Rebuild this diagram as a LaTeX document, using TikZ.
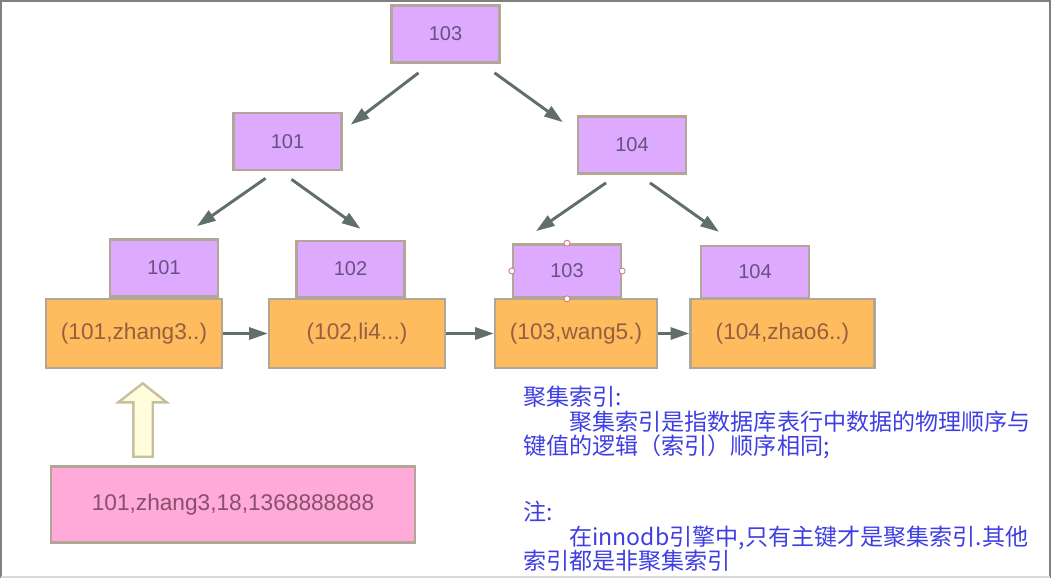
\documentclass[tikz,border=0pt]{standalone}
\usepackage{fontspec}
\setmainfont{Liberation Sans}
\newfontfamily\cjk{Noto Sans CJK SC}
\usetikzlibrary{arrows.meta, calc}

\definecolor{keyfill}{RGB}{222,170,255}
\definecolor{keytext}{RGB}{105,80,130}
\definecolor{rowfill}{RGB}{255,188,94}
\definecolor{rowtext}{RGB}{150,95,65}
\definecolor{recfill}{RGB}{255,170,216}
\definecolor{rectext}{RGB}{135,80,110}
\definecolor{boxline}{RGB}{178,166,150}
\definecolor{linkgray}{RGB}{96,110,108}
\definecolor{hollowfill}{RGB}{255,253,220}
\definecolor{hollowline}{RGB}{200,190,160}
\definecolor{noteblue}{RGB}{62,62,228}
\definecolor{handle}{RGB}{205,120,120}

\begin{document}
\begin{tikzpicture}[x=0.75pt, y=-0.75pt,
  box/.style={draw=boxline, line width=1.8pt, inner sep=0pt},
  key/.style={box, fill=keyfill, text=keytext, font=\fontsize{15}{18}\selectfont,
    minimum width=81pt, minimum height=43pt},
  row/.style={box, fill=rowfill, text=rowtext, font=\fontsize{17}{20}\selectfont,
    minimum height=52pt},
  link/.style={draw=linkgray, line width=2.2pt, -{Triangle[length=14pt,width=9pt]}},
  note/.style={text=noteblue, anchor=north west, inner sep=0pt, align=left,
    font=\cjk\fontsize{17.3}{18.4}\selectfont}]
  \useasboundingbox (0,0) rectangle (1052,578);

  % frame of the slide
  \draw[gray, line width=1.2pt] (0.8,578) -- (0.8,0.8) -- (1050,0.8) -- (1050,578);
  \draw[gray!30, line width=1pt] (0.8,577) -- (1050,577);

  % inner nodes of the tree
  \node[key] (root) at (445.5,34) {103};
  \node[key] (n101) at (287.5,141.5) {101};
  \node[key] (n104) at (632,145) {104};

  % leaf keys
  \node[key, minimum height=43pt] (k101) at (164,268) {101};
  \node[key, minimum height=42pt] (k102) at (350.5,269) {102};
  \node[key, minimum height=40pt] (k103) at (567,271) {103};
  \node[key, minimum height=39pt] (k104) at (755,272) {104};

  % rows of data
  \node[row, minimum width=132pt] (r101) at (134,333.5) {(101,zhang3..)};
  \node[row, minimum width=132pt] (r102) at (357,333.5) {(102,li4...)};
  \node[row, minimum width=121.5pt] (r103) at (576,333.5) {(103,wang5.)};
  \node[row, minimum width=138pt] (r104) at (782.5,333.5) {(104,zhao6..)};

  % tree links
  \draw[link] ($(root.south)+(-27,9)$) -- ($(n101.north east)+(8,13)$);
  \draw[link] ($(root.south)+(49,9)$) -- ($(n104.north west)+(-14,7)$);
  \draw[link] ($(n101.south)+(-22,7)$) -- ($(k101.north)+(33,-12)$);
  \draw[link] ($(n101.south)+(4,8)$) -- ($(k102.north)+(10,-11)$);
  \draw[link] ($(n104.south)+(-26,8)$) -- ($(k103.north)+(-31,-12)$);
  \draw[link] ($(n104.south)+(18,8)$) -- ($(k104.north)+(-36,-13)$);

  % leaf chain
  \draw[link] (r101) -- (r102);
  \draw[link] (r102) -- (r103);
  \draw[link] (r103) -- (r104);

  % selection handles
  \foreach \a in {north, west, east, south}
    \draw[handle, fill=white, line width=0.6pt] (k103.\a) circle (3);

  % record
  \node[box, fill=recfill, text=rectext, font=\fontsize{17}{20}\selectfont,
    minimum width=273pt, minimum height=57pt] (rec) at (233,504.5)
    {101,zhang3,18,1368888888};
  \draw[hollowline, fill=hollowfill, line width=1.8pt]
    (133.3,456.7) -- (133.3,402.3) -- (118.3,402.3) -- (142.7,383.3)
    -- (166.7,402.3) -- (152.7,402.3) -- (152.7,456.7) -- cycle;

  % notes
  \node[note] (def) at (523,386)
    {聚集索引:\\
     \hspace*{2em}聚集索引是指数据库表行中数据的物理顺序与\\
     键值的逻辑（索引）顺序相同;};
  \node[note] (rmk) at (523,501)
    {注:\\
     \hspace*{2em}在innodb引擎中,只有主键才是聚集索引.其他\\
     索引都是非聚集索引};
\end{tikzpicture}
\end{document}
